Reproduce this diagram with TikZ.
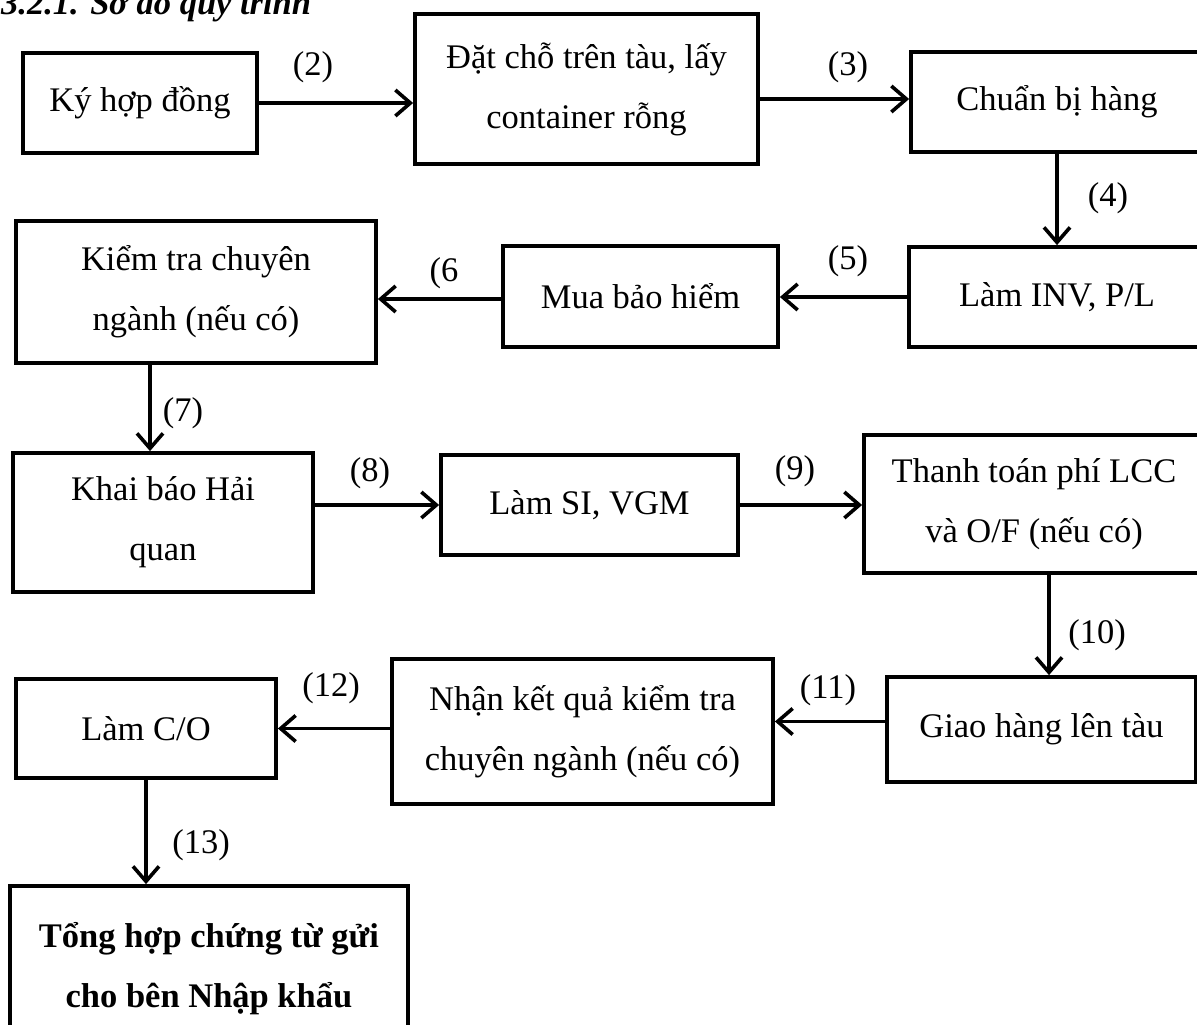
\documentclass[tikz,border=0pt]{standalone}
\usepackage{fontspec}
\setmainfont{Liberation Serif}
\usetikzlibrary{arrows.meta}
\begin{document}
\begin{tikzpicture}[x=1pt,y=-1pt,
  box/.style={draw, line width=3.8pt, rectangle, inner sep=0pt, align=center,
    font=\fontsize{34.5}{60}\selectfont},
  lbl/.style={inner sep=0pt, font=\fontsize{34.5}{40}\selectfont},
  arr/.style={line width=3.6pt, -{Straight Barb[length=15pt,width=26pt]}}]
\fill[white] (0,0) rectangle (1197,1025);
\useasboundingbox (0,0) rectangle (1197,1025);
\node[anchor=base west, inner sep=0pt, font=\fontsize{34.5}{40}\selectfont\bfseries\itshape] (title) at (1,15) {3.2.1. Sơ đồ quy trình};
% boxes
\node[box, minimum width=234pt, minimum height=100pt] (b1) at (140,103) {Ký hợp đồng};
\node[box, minimum width=343pt, minimum height=150pt] (b2) at (586.5,89) {Đặt chỗ trên tàu, lấy\\container rỗng};
\node[box, minimum width=292pt, minimum height=100pt] (b3) at (1057,102) {Chuẩn bị hàng};
\node[box, minimum width=296pt, minimum height=100pt] (b4) at (1057,297) {Làm INV, P/L};
\node[box, minimum width=275pt, minimum height=101pt] (b5) at (640.5,296.5) {Mua bảo hiểm};
\node[box, minimum width=360pt, minimum height=142pt] (b6) at (196,292) {Kiểm tra chuyên\\ngành (nếu có)};
\node[box, minimum width=300pt, minimum height=139pt] (b7) at (163,522.5) {Khai báo Hải\\quan};
\node[box, minimum width=297pt, minimum height=100pt] (b8) at (589.5,505) {Làm SI, VGM};
\node[box, minimum width=340pt, minimum height=138pt] (b9) at (1034,504) {Thanh toán phí LCC\\và O/F (nếu có)};
\node[box, minimum width=309pt, minimum height=105pt] (b10) at (1041.5,729.5) {Giao hàng lên tàu};
\node[box, minimum width=381pt, minimum height=145pt] (b11) at (582.5,731.5) {Nhận kết quả kiểm tra\\chuyên ngành (nếu có)};
\node[box, minimum width=260pt, minimum height=99pt] (b12) at (146,728.5) {Làm C/O};
\node[box, minimum width=398pt, minimum height=165pt, font=\fontsize{34.5}{60}\selectfont\bfseries] (b13) at (209,968.5) {Tổng hợp chứng từ gửi\\cho bên Nhập khẩu};
% connectors
\draw[arr] (b1.east) -- (b1.east -| b2.west);
\draw[arr] ([yshift=3pt]b2.east |- b3.west) -- ([yshift=3pt]b3.west);
\draw[arr] (b3.south) -- (b4.north);
\draw[arr] (b4.west) -- (b4.west -| b5.east);
\draw[arr] ([yshift=-2.5pt]b5.west) -- ([yshift=-2.5pt]b5.west -| b6.east);
\draw[arr] ([xshift=-46pt]b6.south) -- ([xshift=-46pt]b6.south |- b7.north);
\draw[arr] (b7.east |- b8.west) -- (b8.west);
\draw[arr] (b8.east) -- (b8.east -| b9.west);
\draw[arr] ([xshift=15pt]b9.south) -- ([xshift=15pt]b9.south |- b10.north);
\draw[arr] ([yshift=8pt]b10.west) -- ([yshift=8pt]b10.west -| b11.east);
\draw[arr] (b11.west |- b12.east) -- (b12.east);
\draw[arr] (b12.south) -- (b12.south |- b13.north);
% labels
\node[lbl] (l2) at (313,67) {(2)};
\node[lbl] (l3) at (848,67) {(3)};
\node[lbl] (l4) at (1108,198) {(4)};
\node[lbl] (l5) at (848,261) {(5)};
\node[lbl] (l6) at (444,273) {(6};
\node[lbl] (l7) at (183,413) {(7)};
\node[lbl] (l8) at (370,473) {(8)};
\node[lbl] (l9) at (795,471) {(9)};
\node[lbl] (l10) at (1097,635) {(10)};
\node[lbl] (l11) at (828,690) {(11)};
\node[lbl] (l12) at (331,688) {(12)};
\node[lbl] (l13) at (201,845) {(13)};
\end{tikzpicture}
\end{document}
